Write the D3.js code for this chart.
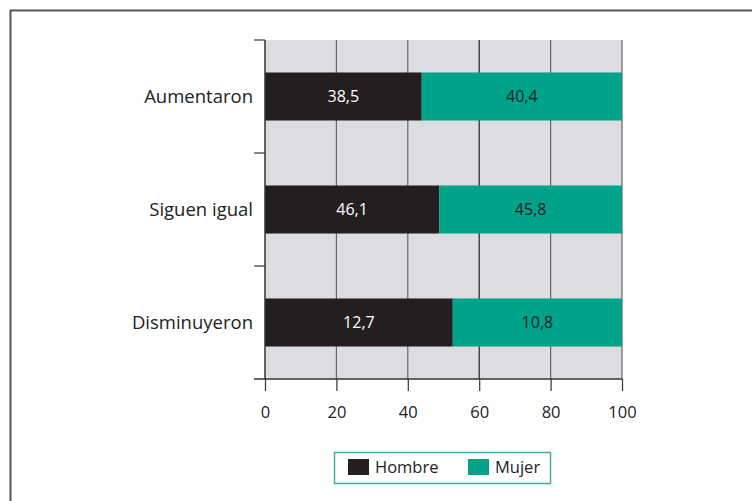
<!DOCTYPE html>
<html>
<head>
<meta charset="utf-8">
<script src="https://cdn.jsdelivr.net/npm/d3@7"></script>
<style>
  body { margin: 0; background: #fff; }
  svg { display: block; font-family: "Open Sans", "Noto Sans", sans-serif; }
</style>
</head>
<body>
<div id="chart"></div>
<script>
// data
var categories = ["Aumentaron", "Siguen igual", "Disminuyeron"];
var hombreLabels = ["38,5", "46,1", "12,7"];
var mujerLabels = ["40,4", "45,8", "10,8"];
// share of each bar taken by Hombre (rest is Mujer), as drawn
var hombreShare = [43.9, 48.8, 52.6];
var xTicks = [0, 20, 40, 60, 80, 100];
var seriesNames = ["Hombre", "Mujer"];
var colors = ["#231f20", "#00a28a"];

var W = 752, H = 501;
var margin = {top: 40, right: 130, bottom: 122, left: 265},
    width = 622 - margin.left,
    height = 379 - margin.top;

var root = d3.select("#chart")
  .append("svg")
    .attr("width", W)
    .attr("height", H);

// outer frame (runs off the picture on right and bottom)
root.append("rect")
  .attr("x", 10.5).attr("y", 10.5)
  .attr("width", W + 20).attr("height", H + 20)
  .attr("fill", "none")
  .attr("stroke", "#555")
  .attr("stroke-width", 2);

var svg = root.append("g")
  .attr("transform", "translate(" + margin.left + "," + margin.top + ")");

var x = d3.scaleLinear().domain([0, 100]).range([0, width]);
var y = d3.scaleBand().domain(categories).range([0, height]).paddingInner(0.575).paddingOuter(0.2875);
var band = d3.scaleBand().domain(categories).range([0, height]);

// plot background
svg.append("rect")
  .attr("x", 0).attr("y", 0)
  .attr("width", width).attr("height", height)
  .attr("fill", "#dcdde0");

// vertical grid
svg.append("g")
  .selectAll("line")
  .data(xTicks.slice(1))
  .join("line")
    .attr("x1", d => x(d)).attr("x2", d => x(d))
    .attr("y1", 0).attr("y2", height)
    .attr("stroke", d => d === 60 ? "#222" : "#666")
    .attr("stroke-width", 1.2);

// bars
var rows = categories.map(function(c, i) {
  return {cat: c, h: hombreShare[i], hl: hombreLabels[i], ml: mujerLabels[i]};
});

var g = svg.append("g").selectAll("g")
  .data(rows)
  .join("g");

g.append("rect")
  .attr("x", x(0))
  .attr("y", d => y(d.cat))
  .attr("width", d => x(d.h) - x(0))
  .attr("height", y.bandwidth())
  .attr("fill", colors[0]);

g.append("rect")
  .attr("x", d => x(d.h))
  .attr("y", d => y(d.cat))
  .attr("width", d => x(100) - x(d.h))
  .attr("height", y.bandwidth())
  .attr("fill", colors[1]);

g.append("text")
  .attr("x", d => x(d.h / 2))
  .attr("y", d => y(d.cat) + y.bandwidth() / 2)
  .attr("dy", "0.35em")
  .attr("text-anchor", "middle")
  .attr("font-size", 16)
  .attr("fill", "#fff")
  .text(d => d.hl);

g.append("text")
  .attr("x", d => x((d.h + 100) / 2))
  .attr("y", d => y(d.cat) + y.bandwidth() / 2)
  .attr("dy", "0.35em")
  .attr("text-anchor", "middle")
  .attr("font-size", 16)
  .attr("fill", "#222")
  .text(d => d.ml);

// x axis
var xAxis = svg.append("g")
  .attr("transform", "translate(0," + height + ")")
  .call(d3.axisBottom(x).tickValues(xTicks).tickSize(12).tickPadding(15));
xAxis.select(".domain").remove();
xAxis.append("line")
  .attr("x1", -11).attr("x2", width)
  .attr("stroke", "#333").attr("stroke-width", 1.5);
xAxis.selectAll(".tick line").attr("stroke", "#333").attr("stroke-width", 1.2);
xAxis.selectAll(".tick text")
  .attr("font-size", 16.5)
  .attr("fill", "#222")
  .attr("font-family", "'Open Sans', 'Noto Sans', sans-serif");

// y axis: line with ticks on band edges
var yAx = svg.append("g");
yAx.append("line")
  .attr("x1", 0).attr("x2", 0).attr("y1", 0).attr("y2", height)
  .attr("stroke", "#333").attr("stroke-width", 1.5);
yAx.selectAll(".edge")
  .data(categories)
  .join("line")
    .attr("class", "edge")
    .attr("x1", -11).attr("x2", 0)
    .attr("y1", d => band(d)).attr("y2", d => band(d))
    .attr("stroke", "#333").attr("stroke-width", 1.2);
yAx.selectAll("text")
  .data(categories)
  .join("text")
    .attr("x", -12)
    .attr("y", d => y(d) + y.bandwidth() / 2)
    .attr("dy", "0.35em")
    .attr("text-anchor", "end")
    .attr("font-size", 18.5)
    .attr("fill", "#222")
    .text(d => d);

// legend
var legend = root.append("g").attr("transform", "translate(334,452)");
legend.append("rect")
  .attr("x", 0.5).attr("y", 0.5)
  .attr("width", 216).attr("height", 31)
  .attr("fill", "#fff")
  .attr("stroke", "#3fae9c")
  .attr("stroke-width", 1.5);
var li = legend.selectAll(".item")
  .data(seriesNames)
  .join("g")
    .attr("class", "item")
    .attr("transform", (d, i) => "translate(" + (14 + i * 120) + ",7)");
li.append("rect")
  .attr("width", 21).attr("height", 16)
  .attr("fill", (d, i) => colors[i]);
li.append("text")
  .attr("x", 27).attr("y", 8)
  .attr("dy", "0.35em")
  .attr("font-size", 16.5)
  .attr("fill", "#222")
  .text(d => d);
</script>
</body>
</html>
